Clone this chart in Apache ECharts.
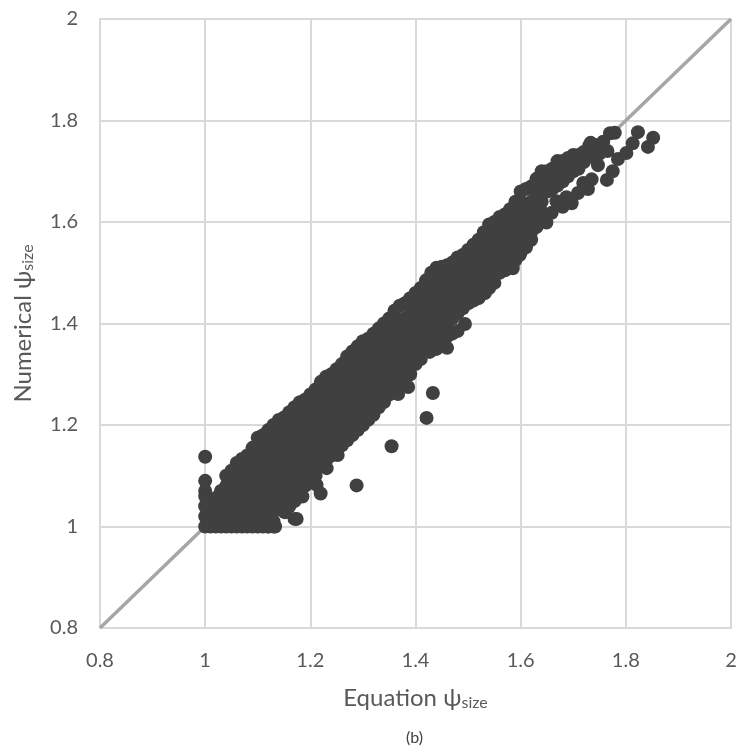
<!DOCTYPE html>
<html>
<head>
<meta charset="utf-8">
<style>html,body{margin:0;padding:0;background:#fff}#c{width:743px;height:753px}</style>
<script src="https://cdn.jsdelivr.net/npm/echarts@6/dist/echarts.min.js"></script>
</head>
<body>
<div id="c"></div>
<script>
const xTicks = ['0.8', '1', '1.2', '1.4', '1.6', '1.8', '2'];
const yTicks = ['0.8', '1', '1.2', '1.4', '1.6', '1.8', '2'];
const xName = 'Equation ψ';
const yName = 'Numerical ψ';
const subscript = 'size';
const caption = '(b)';
const identityLine = [[0.8, 0.8], [2, 2]];

// each row: equation value, then the numerical values read at that column
const columnsLow = [
  [1.00, 1.00, 1.02, 1.04, 1.06, 1.07, 1.09, 1.1375],
  [1.01, 1.00, 1.01, 1.03, 1.05],
  [1.02, 1.00, 1.02, 1.04, 1.056],
  [1.03, 1.00, 1.01, 1.03, 1.05, 1.07],
  [1.04, 1.00, 1.02, 1.04, 1.06, 1.08, 1.10],
  [1.05, 1.00, 1.01, 1.03, 1.05, 1.07, 1.09, 1.11],
  [1.06, 1.00, 1.02, 1.04, 1.06, 1.08, 1.10, 1.125],
  [1.07, 1.00, 1.01, 1.03, 1.05, 1.07, 1.09, 1.11, 1.133],
  [1.08, 1.00, 1.02, 1.04, 1.06, 1.08, 1.10, 1.12, 1.14],
  [1.09, 1.00, 1.01, 1.03, 1.05, 1.07, 1.09, 1.11, 1.13, 1.155],
  [1.10, 1.00, 1.02, 1.04, 1.06, 1.08, 1.10, 1.12, 1.14, 1.16, 1.175],
  [1.11, 1.00, 1.01, 1.03, 1.05, 1.07, 1.09, 1.11, 1.13, 1.15, 1.18],
  [1.12, 1.00, 1.02, 1.04, 1.06, 1.08, 1.10, 1.12, 1.14, 1.16, 1.19],
  [1.13, 1.00, 1.01, 1.03, 1.05, 1.07, 1.09, 1.11, 1.13, 1.15, 1.17, 1.20],
  [1.14, 1.04, 1.06, 1.08, 1.10, 1.12, 1.14, 1.16, 1.18, 1.21],
  [1.15, 1.03, 1.05, 1.07, 1.09, 1.11, 1.13, 1.15, 1.17, 1.19, 1.215],
  [1.16, 1.04, 1.06, 1.08, 1.10, 1.12, 1.14, 1.16, 1.18, 1.20, 1.225],
  [1.17, 1.015, 1.05, 1.07, 1.09, 1.11, 1.13, 1.15, 1.17, 1.19, 1.21, 1.235]
];
const columnsMid = [
  [1.18, 1.06, 1.08, 1.10, 1.12, 1.14, 1.16, 1.18, 1.20, 1.22, 1.245],
  [1.19, 1.08, 1.09, 1.11, 1.13, 1.15, 1.17, 1.19, 1.21, 1.23, 1.25],
  [1.20, 1.09, 1.10, 1.12, 1.14, 1.16, 1.18, 1.20, 1.22, 1.24, 1.26],
  [1.21, 1.10, 1.11, 1.13, 1.15, 1.17, 1.19, 1.21, 1.23, 1.25, 1.27],
  [1.22, 1.12, 1.14, 1.16, 1.18, 1.20, 1.22, 1.24, 1.26, 1.285],
  [1.23, 1.13, 1.15, 1.17, 1.19, 1.21, 1.23, 1.25, 1.27, 1.295],
  [1.24, 1.14, 1.16, 1.18, 1.20, 1.22, 1.24, 1.26, 1.28, 1.30],
  [1.25, 1.15, 1.17, 1.19, 1.21, 1.23, 1.25, 1.27, 1.29, 1.31],
  [1.26, 1.16, 1.18, 1.20, 1.22, 1.24, 1.26, 1.28, 1.30, 1.32],
  [1.27, 1.17, 1.19, 1.21, 1.23, 1.25, 1.27, 1.29, 1.31, 1.335],
  [1.28, 1.18, 1.20, 1.22, 1.24, 1.26, 1.28, 1.30, 1.32, 1.345],
  [1.29, 1.19, 1.21, 1.23, 1.25, 1.27, 1.29, 1.31, 1.33, 1.355],
  [1.30, 1.20, 1.22, 1.24, 1.26, 1.28, 1.30, 1.32, 1.34, 1.365],
  [1.31, 1.21, 1.23, 1.25, 1.27, 1.29, 1.31, 1.33, 1.35, 1.37],
  [1.32, 1.22, 1.24, 1.26, 1.28, 1.30, 1.32, 1.34, 1.36, 1.38],
  [1.33, 1.235, 1.25, 1.27, 1.29, 1.31, 1.33, 1.35, 1.37, 1.39],
  [1.34, 1.245, 1.26, 1.28, 1.30, 1.32, 1.34, 1.36, 1.38, 1.40],
  [1.35, 1.26, 1.28, 1.30, 1.32, 1.34, 1.36, 1.38, 1.41],
  [1.36, 1.27, 1.29, 1.31, 1.33, 1.35, 1.37, 1.39, 1.41, 1.425],
  [1.37, 1.28, 1.30, 1.32, 1.34, 1.36, 1.38, 1.40, 1.435],
  [1.38, 1.29, 1.31, 1.33, 1.35, 1.37, 1.39, 1.41, 1.44],
  [1.39, 1.30, 1.32, 1.34, 1.36, 1.38, 1.40, 1.42, 1.45],
  [1.40, 1.32, 1.34, 1.36, 1.38, 1.40, 1.42, 1.44, 1.46],
  [1.41, 1.33, 1.35, 1.37, 1.39, 1.41, 1.43, 1.45, 1.47],
  [1.42, 1.345, 1.36, 1.38, 1.40, 1.42, 1.44, 1.46, 1.485],
  [1.43, 1.35, 1.37, 1.39, 1.41, 1.43, 1.45, 1.47, 1.50],
  [1.44, 1.35, 1.38, 1.40, 1.42, 1.44, 1.46, 1.48, 1.51],
  [1.45, 1.36, 1.39, 1.41, 1.43, 1.45, 1.47, 1.49, 1.512],
  [1.46, 1.375, 1.40, 1.42, 1.44, 1.46, 1.48, 1.50, 1.515],
  [1.47, 1.38, 1.41, 1.43, 1.45, 1.47, 1.49, 1.52],
  [1.48, 1.385, 1.42, 1.44, 1.46, 1.48, 1.50, 1.53],
  [1.49, 1.43, 1.45, 1.47, 1.49, 1.51, 1.535]
];
const columnsHigh = [
  [1.50, 1.44, 1.46, 1.48, 1.50, 1.52, 1.545],
  [1.51, 1.445, 1.47, 1.49, 1.51, 1.53, 1.555],
  [1.52, 1.45, 1.47, 1.49, 1.51, 1.53, 1.55, 1.565],
  [1.53, 1.46, 1.48, 1.50, 1.52, 1.54, 1.56, 1.58],
  [1.54, 1.47, 1.49, 1.51, 1.53, 1.55, 1.57, 1.595],
  [1.55, 1.48, 1.50, 1.52, 1.54, 1.56, 1.58, 1.60],
  [1.56, 1.50, 1.52, 1.54, 1.56, 1.58, 1.61],
  [1.57, 1.505, 1.53, 1.55, 1.57, 1.59, 1.615],
  [1.58, 1.51, 1.53, 1.55, 1.57, 1.59, 1.61, 1.625],
  [1.59, 1.525, 1.55, 1.57, 1.59, 1.61, 1.64],
  [1.60, 1.54, 1.56, 1.58, 1.60, 1.62, 1.64, 1.66],
  [1.61, 1.55, 1.57, 1.59, 1.61, 1.63, 1.665],
  [1.62, 1.565, 1.58, 1.60, 1.62, 1.64, 1.67],
  [1.63, 1.59, 1.61, 1.63, 1.65, 1.685],
  [1.64, 1.62, 1.64, 1.66, 1.68, 1.70],
  [1.65, 1.66, 1.68, 1.70],
  [1.66, 1.665, 1.685, 1.705],
  [1.67, 1.672, 1.69, 1.72],
  [1.68, 1.68, 1.70, 1.72],
  [1.69, 1.69, 1.71, 1.726],
  [1.70, 1.70, 1.715, 1.732],
  [1.71, 1.705, 1.732],
  [1.72, 1.718, 1.738],
  [1.73, 1.728, 1.75],
  [1.74, 1.735, 1.752]
];
const outliers = [
  [1.231, 1.115], [1.3545, 1.158], [1.288, 1.081], [1.421, 1.214], [1.433, 1.263],
  [1.252, 1.141], [1.2196, 1.065], [1.185, 1.059], [1.152, 1.028], [1.212, 1.082],
  [1.133, 1.00], [1.12, 1.00], [1.174, 1.015],
  [1.367, 1.261], [1.386, 1.275], [1.378, 1.296], [1.427, 1.344], [1.46, 1.352],
  [1.49, 1.433], [1.494, 1.399], [1.532, 1.46], [1.585, 1.509], [1.598, 1.535],
  [1.618, 1.565], [1.63, 1.592], [1.649, 1.599], [1.659, 1.618], [1.668, 1.641],
  [1.68, 1.63], [1.687, 1.649], [1.697, 1.637], [1.709, 1.657], [1.719, 1.677],
  [1.728, 1.665], [1.735, 1.684], [1.747, 1.712], [1.764, 1.683], [1.775, 1.70],
  [1.785, 1.724], [1.801, 1.736], [1.813, 1.755], [1.823, 1.777], [1.842, 1.748],
  [1.852, 1.766], [1.779, 1.776], [1.77, 1.775], [1.757, 1.758], [1.733, 1.756],
  [1.75, 1.735], [1.765, 1.74]
];

const points = [];
[columnsLow, columnsMid, columnsHigh].forEach(function (group) {
  group.forEach(function (row) {
    row.slice(1).forEach(function (y) { points.push([row[0], y]); });
  });
});
outliers.forEach(function (p) { points.push(p); });

const chart = echarts.init(document.getElementById('c'), null, { renderer: 'canvas' });
const fontFamily = 'Lato, "Open Sans", sans-serif';
const richName = {
  a: { fontFamily: fontFamily, fontSize: 24, color: '#595959' },
  s: { fontFamily: fontFamily, fontSize: 16, color: '#595959', verticalAlign: 'bottom', padding: [10, 0, 0, 0] }
};
const gridLine = { show: true, lineStyle: { color: '#d9d9d9', width: 2 } };
chart.setOption({
  animation: false,
  backgroundColor: '#ffffff',
  grid: { left: 100, right: 12, top: 19, bottom: 125, containLabel: false, outerBoundsMode: 'none' },
  graphic: [{
    type: 'text', left: 406, top: 730,
    style: { text: caption, fontFamily: fontFamily, fontSize: 16, fill: '#404040' }
  }],
  xAxis: {
    type: 'value', min: 0.8, max: 2, interval: 0.2,
    axisLine: { show: true, onZero: false, lineStyle: { color: '#d9d9d9', width: 2 } },
    axisTick: { show: false },
    splitLine: gridLine,
    axisLabel: {
      margin: 23, fontFamily: fontFamily, fontSize: 20, color: '#595959',
      formatter: function (v) { return xTicks[Math.round((v - 0.8) / 0.2)]; }
    },
    name: '{a|' + xName + '}{s|' + subscript + '}',
    nameLocation: 'middle', nameGap: 57,
    nameTextStyle: { rich: richName }
  },
  yAxis: {
    type: 'value', min: 0.8, max: 2, interval: 0.2,
    axisLine: { show: true, onZero: false, lineStyle: { color: '#d9d9d9', width: 2 } },
    axisTick: { show: false },
    splitLine: gridLine,
    axisLabel: {
      margin: 22, fontFamily: fontFamily, fontSize: 20, color: '#595959',
      formatter: function (v) { return yTicks[Math.round((v - 0.8) / 0.2)]; }
    },
    name: '{a|' + yName + '}{s|' + subscript + '}',
    nameLocation: 'middle', nameGap: 64, nameRotate: 90,
    nameTextStyle: { rich: richName }
  },
  series: [
    {
      type: 'line', data: identityLine, showSymbol: false, symbol: 'none', silent: true, z: 2,
      lineStyle: { color: '#a6a6a6', width: 3.5 }
    },
    {
      type: 'scatter', data: points, symbol: 'circle', symbolSize: 14, z: 3,
      itemStyle: { color: '#404040', opacity: 1 }
    }
  ]
});
</script>
</body>
</html>
